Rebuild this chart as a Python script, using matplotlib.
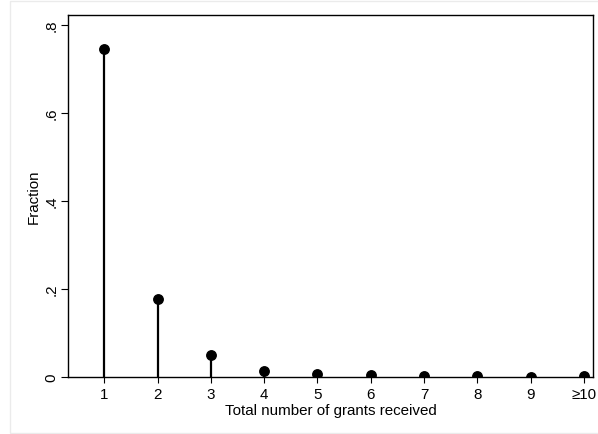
import matplotlib
matplotlib.use('Agg')
import matplotlib.pyplot as plt
from matplotlib.patches import Rectangle

plt.rcParams['font.family'] = ['Liberation Sans', 'DejaVu Sans']

# data
grants = [1, 2, 3, 4, 5, 6, 7, 8, 9, 10]
grant_labels = ['1', '2', '3', '4', '5', '6', '7', '8', '9', '\u226510']
fraction = [0.745, 0.177, 0.049, 0.013, 0.0075, 0.0045, 0.002, 0.002, 0.001, 0.002]
yticks = [0, 0.2, 0.4, 0.6, 0.8]
ytick_labels = ['0', '.2', '.4', '.6', '.8']

fig = plt.figure(figsize=(5.98, 4.35), dpi=100)
# light outer frame (graph region), runs off the right edge
fig.patches.append(Rectangle((10/598, 1.5/435), 1.2, 432/435, transform=fig.transFigure,
                             fill=False, edgecolor='#ebebeb', linewidth=1))

ax = fig.add_axes([68/598, 57/435, 525/598, 362/435])
ax.vlines(grants, 0, fraction, color='black', linewidth=1.6)
ax.plot(grants, fraction, 'o', color='black', markersize=6.8)

ax.set_xlim(0.32, 10.17)
ax.set_ylim(0, 0.8227)
ax.set_xticks(grants)
ax.set_xticklabels(grant_labels, fontsize=10.9)
ax.set_yticks(yticks)
ax.set_yticklabels(ytick_labels, fontsize=10.9, rotation=90, va='center')
ax.tick_params(axis='y', length=5, width=0.8, pad=2)
ax.tick_params(axis='x', length=4, width=0.8, pad=3)
for s in ax.spines.values():
    s.set_linewidth(1.0)

ax.set_xlabel('Total number of grants received', fontsize=10.9, labelpad=1.5)
ax.set_ylabel('Fraction', fontsize=10.9, labelpad=2.5)

fig.savefig('out.png', dpi=100)
